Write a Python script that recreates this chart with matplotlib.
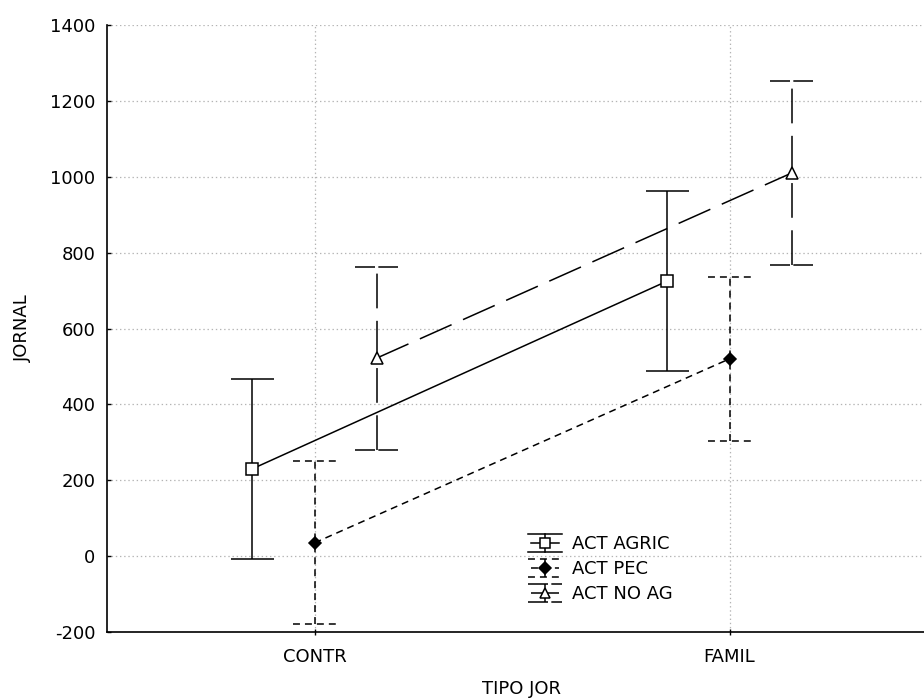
"""
JORNAL by TIPO JOR: means with error bars per activity group.
"""

import matplotlib.pyplot as plt
from matplotlib.legend_handler import HandlerBase
from matplotlib.lines import Line2D

plt.rcParams["font.family"] = "DejaVu Sans"
plt.rcParams["font.size"] = 13
plt.rcParams["lines.scale_dashes"] = False

categories = ["CONTR", "FAMIL"]
groups = ["ACT AGRIC", "ACT PEC", "ACT NO AG"]

agric_mean = [230, 725]
agric_err = [237, 237]
pec_mean = [35, 520]
pec_err = [215, 216]
noag_mean = [522, 1010]
noag_err = [241, 242]

yticks = [-200, 0, 200, 400, 600, 800, 1000, 1200, 1400]

LW = 1.1
SHORT = (0, (5, 3.6))
LONG = (0, (25, 9))

# per-group style: x offset, line style, cap style, marker, face colour, size
styles = {
    "ACT AGRIC": dict(dx=-0.15, ls="-", cap="-", marker="s", mfc="white", ms=8),
    "ACT PEC": dict(dx=0.0, ls=SHORT, cap=SHORT, marker="D", mfc="black", ms=6.5),
    "ACT NO AG": dict(dx=0.15, ls=LONG, cap=(0, (14.4, 2.4)), marker="^", mfc="white", ms=8),
}
series = {
    "ACT AGRIC": (agric_mean, agric_err),
    "ACT PEC": (pec_mean, pec_err),
    "ACT NO AG": (noag_mean, noag_err),
}
CAP_HW = 0.052


class ErrbarHandler(HandlerBase):
    """Legend key: line through marker, vertical bar, caps top and bottom."""

    def __init__(self, st):
        super().__init__()
        self.st = st

    def create_artists(self, legend, orig_handle, xdescent, ydescent,
                       width, height, fontsize, trans):
        st = self.st
        x0, x1 = -xdescent, -xdescent + width
        xc = x0 + width / 2
        y0, y1 = -ydescent - 0.1 * height, -ydescent + 1.1 * height
        yc = -ydescent + height / 2
        arts = []
        for xs, ys, ls in [
            ([x0 + 2, x1 - 2], [yc, yc], st["ls"]),
            ([xc, xc], [y0, y1], st["ls"]),
            ([x0, x1], [y0, y0], st["cap"]),
            ([x0, x1], [y1, y1], st["cap"]),
        ]:
            arts.append(Line2D(xs, ys, color="black", lw=LW, linestyle=ls,
                               transform=trans))
        arts.append(Line2D([xc], [yc], linestyle="none", marker=st["marker"],
                           mfc=st["mfc"], mec="black", mew=LW, ms=st["ms"] - 0.5,
                           transform=trans))
        return arts


fig = plt.figure(figsize=(9.24, 7.0), dpi=100)
ax = fig.add_axes([107 / 924, 68 / 700, 830 / 924, 607 / 700])

handles = []
hmap = {}
for name in groups:
    st = styles[name]
    mean, err = series[name]
    xs = [i + st["dx"] for i in range(len(categories))]
    lo = [m - e for m, e in zip(mean, err)]
    hi = [m + e for m, e in zip(mean, err)]
    ax.vlines(xs, lo, hi, colors="black", linewidth=LW, linestyles=[st["ls"]], zorder=2)
    for yy in (lo, hi):
        ax.hlines(yy, [x - CAP_HW for x in xs], [x + CAP_HW for x in xs],
                  colors="black", linewidth=LW, linestyles=[st["cap"]], zorder=2)
    (ln,) = ax.plot(xs, mean, color="black", lw=LW, linestyle=st["ls"], zorder=2,
                    label=name)
    ax.plot(xs, mean, linestyle="none", marker=st["marker"], mfc=st["mfc"],
            mec="black", mew=LW, ms=st["ms"], zorder=3)
    handles.append(ln)
    hmap[ln] = ErrbarHandler(st)

ax.set_xlim(-0.5, 1.5)
ax.set_ylim(-200, 1400)
ax.set_xticks(range(len(categories)))
ax.set_xticklabels(categories)
ax.set_yticks(yticks)
ax.set_yticklabels([str(v) for v in yticks])

ax.grid(True, color="#b4b4b4", linestyle=(0, (1, 2)), linewidth=0.9)
ax.set_axisbelow(True)
for side in ("top", "right"):
    ax.spines[side].set_visible(False)
for side in ("left", "bottom"):
    ax.spines[side].set_linewidth(1.2)
ax.tick_params(axis="y", direction="in", length=3, width=1, pad=8.5)
ax.tick_params(axis="x", direction="inout", length=5, width=1, pad=9)

ax.set_ylabel("JORNAL")
ax.yaxis.set_label_coords(-0.0904, 0.5)
ax.set_xlabel("TIPO JOR", va="top")
ax.xaxis.set_label_coords(0.5, -0.079)

ax.legend(handles=handles, labels=groups, handler_map=hmap, frameon=False,
          loc="upper left", bbox_to_anchor=(0.507, 0.16), borderpad=0,
          handlelength=1.9, handleheight=0.9, handletextpad=0.55,
          labelspacing=0.4, borderaxespad=0)

fig.savefig("out.png", dpi=100)
plt.close(fig)
